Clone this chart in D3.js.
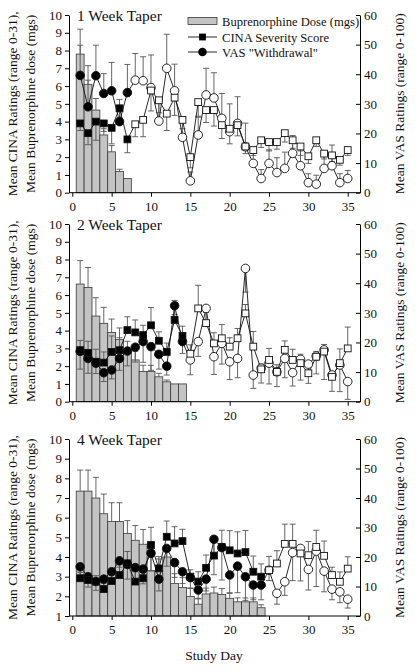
<!DOCTYPE html>
<html><head><meta charset="utf-8">
<script src="https://cdn.jsdelivr.net/npm/d3@7"></script>
<style>
body{margin:0;background:#fff}
svg{display:block}
text{font-family:"Liberation Serif","Times New Roman",serif;fill:#111}
</style>
</head><body>
<svg id="c" width="417" height="671"></svg>
<script>
// ---------- DATA ----------
const days = d3.range(1, 36);
const panelTitles = ["1 Week Taper", "2 Week Taper", "4 Week Taper"];
const taperLength = [7, 14, 24];
const leftTicks1 = [0,1,2,3,4,5,6,7,8,9,10];
const leftTicks3 = [1,2,3,4,5,6,7,8,9,10];
const rightTicks = [0,10,20,30,40,50,60];
const xTicks = [0,5,10,15,20,25,30,35];
const legendLabels = ["Buprenorphine Dose (mgs)", "CINA Severity Score", 'VAS "Withdrawal"'];

// 1 week taper
const dose1 = [7.8, 6.1, 4.65, 3.25, 2.3, 1.2, 0.8];
const doseErr1 = [1.4, 1.05, 0.65, 0.35, 0.35, 0.12, 0];
const cina1 = [3.9,3.35,4.0,3.9,3.65,4.75,3.0,3.85,4.1,5.75,5.2,4.45,5.35,4.1,2.0,5.1,4.65,
               4.65,3.8,3.6,3.8,2.6,2.4,2.95,2.85,2.85,3.35,2.95,2.6,2.05,2.95,2.2,2.1,1.85,2.4];
const cinaErr1 = [0.4,0.65,1.05,0.45,0.9,0.55,0.75,0.7,0.95,1.15,0.7,0.95,1.0,0.5,0.6,0.8,0.7,
                  0.9,0.75,0.85,0.6,0.4,0.3,0.4,0.5,0.4,0.5,0.45,0.5,0.4,0.35,0.3,0.35,0.3,0.3];
const vas1 = [39.6,29,39.5,33.5,34.4,24,33.8,38,37.8,35.5,24.2,42,34.4,18.7,4,19.5,33,32,25.1,20.6,
              23.4,15.5,9.9,4.8,9.9,6.8,8.2,13.3,9.1,3.4,2.9,8.2,9.1,3.4,4.8];
const vasErr1 = [10.2,9,10.3,6.7,9.6,7.5,9.5,9,8.1,11,7.6,11.5,9,5,3,6,9,8.5,8.4,9.4,
                 9,8,5,3,4.6,5,5.5,6,5,3,3,5,7,3,2.7];

// 2 week taper
const dose2 = [6.62,6.43,4.82,4.41,3.9,3.5,2.8,2.35,1.7,1.7,1.4,1.12,1.0,1.0];
const doseErr2 = [1.32,1.12,1.03,0.9,0.75,0.65,0.6,0.5,0.35,0.35,0.2,0.1,0,0];
const cina2 = [2.9,2.75,2.25,2.2,2.8,2.9,4.03,3.9,3.75,4.3,3.43,2.8,4.6,3.7,2.7,5.25,4.42,3.28,
               3.57,3.1,3.57,4.97,3.1,1.82,2.35,1.68,2.92,2.35,2.17,1.6,2.53,2.82,1.4,2.17,3.0];
const cinaErr2 = [0.55,0.65,0.7,0.6,0.9,0.7,0.75,0.7,0.55,1.0,0.5,0.5,1.1,0.55,0.5,1.3,0.6,0.6,
                  0.77,0.5,0.55,0.5,0.85,0.3,0.65,0.4,0.5,0.6,0.5,0.4,0.3,0.4,0.3,0.8,1.2];
const vas2 = [17,14.6,13,9.8,10.7,14.6,17.1,18.4,20.3,18.6,16,12,32.4,20.3,14.1,20.3,31.5,15.2,
              19.7,13.5,14.6,45,9,11.3,13,10.1,14.6,9.8,14.3,12.7,15.4,17.5,9,12.4,6.8];
const vasErr2 = [6,5,3.5,3,3,4,5,5,7,8,5,3,3,4,5,5,5,6,7,6,6.5,8,4.5,5,7,5,6.5,4.5,7,6.5,
                 6,10,5.5,9,6];

// 4 week taper
const dose3 = [7.35,7.35,7.0,6.2,5.8,5.8,5.2,4.85,4.65,3.3,3.3,4.0,2.65,2.45,2.0,1.6,
               2.12,2.17,2.1,1.9,1.72,1.72,1.72,1.42];
const doseErr3 = [1.07,1.07,1.05,1.0,0.96,0.96,0.65,0.75,0.75,0.7,0.6,0.5,0.5,0.5,0.4,0.3,
                  0.3,0.3,0.3,0.25,0.2,0.2,0.2,0.15];
const cina3 = [2.92,2.83,2.75,2.37,2.78,3.08,3.68,2.75,2.92,4.61,3.42,5.03,4.69,4.81,3.0,2.75,
               3.45,4.07,4.51,4.34,4.18,4.25,3.25,3.0,3.33,3.67,4.67,4.67,4.18,4.09,4.51,4.06,
               3.08,2.74,3.41];
const cinaErr3 = [0.3,0.35,0.3,0.3,0.35,0.4,0.6,0.5,0.55,0.9,0.6,0.8,0.85,0.6,0.35,0.5,0.65,0.7,
                  0.85,1.0,1.1,1.1,0.8,0.65,0.7,0.65,1.0,1.0,0.2,0.7,0.85,0.75,0.4,0.5,0.6];
const vas3 = [16.7,13.3,11.7,12.5,15,18.7,17.5,16.4,15.9,21.3,12.5,22.9,18.1,15,13,8.8,12.5,26,
              23.2,13.9,16.9,13.3,10.5,10.5,15.5,7.7,11.6,21.5,22.9,15.8,22,15.2,9.1,8.2,5.7];
const vasErr3 = [4,3.5,3,3,3.5,4,5,4,5,6,4,6,5,4,3.5,3,4,12,11,6,9,8,5,5,3.5,3.7,4.6,9.5,11,7,
                 12,7,3.6,3.7,3];

// ---------- LAYOUT ----------
const svg = d3.select("#c");
const x = d3.scaleLinear().domain([-0.42, 36.56]).range([69, 360]);

const panels = [
  {title: panelTitles[0], top: 15, bottom: 192.7, lDomain: [0,10], lTicks: leftTicks1,
   dose: dose1, doseErr: doseErr1, cina: cina1, cinaErr: cinaErr1, cinaDir: -1,
   vas: vas1, vasErr: vasErr1, vasDir: 1, taper: taperLength[0], legend: true},
  {title: panelTitles[1], top: 224, bottom: 401.7, lDomain: [0,10], lTicks: leftTicks1,
   dose: dose2, doseErr: doseErr2, cina: cina2, cinaErr: cinaErr2, cinaDir: 1,
   vas: vas2, vasErr: vasErr2, vasDir: -1, taper: taperLength[1]},
  {title: panelTitles[2], top: 439, bottom: 616, lDomain: [1,10], lTicks: leftTicks3,
   dose: dose3, doseErr: doseErr3, cina: cina3, cinaErr: cinaErr3, cinaDir: 1,
   vas: vas3, vasErr: vasErr3, vasDir: -1, taper: taperLength[2]}
];

const barFill = "#c4c4c4", barStroke = "#3a3a3a", errCol = "#555", capW = 3;

function errBar(g, xc, y0, y1) {
  g.append("line").attr("x1", xc).attr("x2", xc).attr("y1", y0).attr("y2", y1)
    .attr("stroke", errCol).attr("stroke-width", 0.9);
  g.append("line").attr("x1", xc - capW).attr("x2", xc + capW).attr("y1", y1).attr("y2", y1)
    .attr("stroke", errCol).attr("stroke-width", 0.9);
}

panels.forEach(p => {
  const g = svg.append("g");
  const yL = d3.scaleLinear().domain(p.lDomain).range([p.bottom, p.top]);
  const yR = d3.scaleLinear().domain([0, 60]).range([p.bottom, p.top]);
  const base = p.lDomain[0];

  // bars
  const gb = g.append("g");
  p.dose.forEach((v, i) => {
    const d = days[i];
    gb.append("rect").attr("x", x(d - 0.5)).attr("width", x(d + 0.5) - x(d - 0.5))
      .attr("y", yL(v)).attr("height", yL(base) - yL(v))
      .attr("fill", barFill).attr("stroke", barStroke).attr("stroke-width", 0.8);
  });
  const ge = g.append("g");
  p.dose.forEach((v, i) => { if (p.doseErr[i] > 0) errBar(ge, x(days[i]), yL(v), yL(v + p.doseErr[i])); });

  // error bars of series
  p.cina.forEach((v, i) => errBar(ge, x(days[i]), yL(v), yL(v + p.cinaDir * p.cinaErr[i])));
  p.vas.forEach((v, i) => errBar(ge, x(days[i]), yR(v), yR(Math.max(0, v + p.vasDir * p.vasErr[i]))));

  // lines
  const lineL = d3.line().x((v, i) => x(days[i])).y(v => yL(v));
  const lineR = d3.line().x((v, i) => x(days[i])).y(v => yR(v));
  g.append("path").attr("d", lineR(p.vas)).attr("fill", "none").attr("stroke", "#111").attr("stroke-width", 0.9);
  g.append("path").attr("d", lineL(p.cina)).attr("fill", "none").attr("stroke", "#111").attr("stroke-width", 0.9);

  // markers
  p.vas.forEach((v, i) => {
    g.append("circle").attr("cx", x(days[i])).attr("cy", yR(v)).attr("r", 4.3)
      .attr("fill", days[i] <= p.taper ? "#000" : "#fff").attr("stroke", "#111").attr("stroke-width", 0.9);
  });
  p.cina.forEach((v, i) => {
    g.append("rect").attr("x", x(days[i]) - 3.4).attr("y", yL(v) - 3.4).attr("width", 6.8).attr("height", 6.8)
      .attr("fill", days[i] <= p.taper ? "#000" : "#fff").attr("stroke", "#111").attr("stroke-width", 0.9);
  });

  // axes
  const ax = g.append("g").attr("transform", `translate(0,${p.bottom})`)
    .call(d3.axisBottom(x).tickValues(xTicks).tickSize(4).tickSizeOuter(0).tickPadding(5));
  const al = g.append("g").attr("transform", `translate(69,0)`)
    .call(d3.axisLeft(yL).tickValues(p.lTicks).tickSize(4).tickSizeOuter(0).tickPadding(3));
  const ar = g.append("g").attr("transform", `translate(360,0)`)
    .call(d3.axisRight(yR).tickValues(rightTicks).tickSize(-4).tickSizeOuter(0).tickPadding(4));
  [ax, al, ar].forEach(a => {
    a.selectAll("text").style("font-family", '"Liberation Serif","Times New Roman",serif')
      .style("font-size", "13px").attr("fill", "#111");
    a.selectAll("path,line").attr("stroke", "#000").attr("stroke-width", 1);
  });
  ax.select(".domain").attr("d", `M69,0H360`);

  // title
  g.append("text").attr("x", 77).attr("y", p.top + 6).attr("font-size", "15.5px").text(p.title);

  // y-axis labels
  const cy = (p.top + p.bottom) / 2;
  g.append("text").attr("transform", `translate(17,${cy}) rotate(-90)`).attr("text-anchor", "middle")
    .attr("font-size", "13.5px").text("Mean CINA Ratings (range 0-31),");
  g.append("text").attr("transform", `translate(35,${cy}) rotate(-90)`).attr("text-anchor", "middle")
    .attr("font-size", "13.5px").text("Mean Buprenorphine dose (mgs)");
  g.append("text").attr("transform", `translate(404,${cy}) rotate(-90)`).attr("text-anchor", "middle")
    .attr("font-size", "13.5px").text("Mean VAS Ratings (range 0-100)");

  if (p.legend) {
    const lg = g.append("g");
    const rows = [21, 37, 52];
    lg.append("rect").attr("x", 188).attr("y", rows[0] - 3.5).attr("width", 29).attr("height", 7)
      .attr("fill", barFill).attr("stroke", barStroke).attr("stroke-width", 0.8);
    [1, 2].forEach(k => {
      lg.append("line").attr("x1", 188).attr("x2", 217).attr("y1", rows[k]).attr("y2", rows[k])
        .attr("stroke", "#111").attr("stroke-width", 0.9);
    });
    lg.append("rect").attr("x", 202.5 - 3.4).attr("y", rows[1] - 3.4).attr("width", 6.8).attr("height", 6.8).attr("fill", "#000");
    lg.append("circle").attr("cx", 202.5).attr("cy", rows[2]).attr("r", 4.3).attr("fill", "#000");
    legendLabels.forEach((t, k) => {
      lg.append("text").attr("x", 222).attr("y", rows[k] + 4.5).attr("font-size", "12.6px").text(t);
    });
  }
});

svg.append("text").attr("x", 214).attr("y", 660).attr("text-anchor", "middle")
  .attr("font-size", "13.5px").text("Study Day");
</script>
</body></html>
